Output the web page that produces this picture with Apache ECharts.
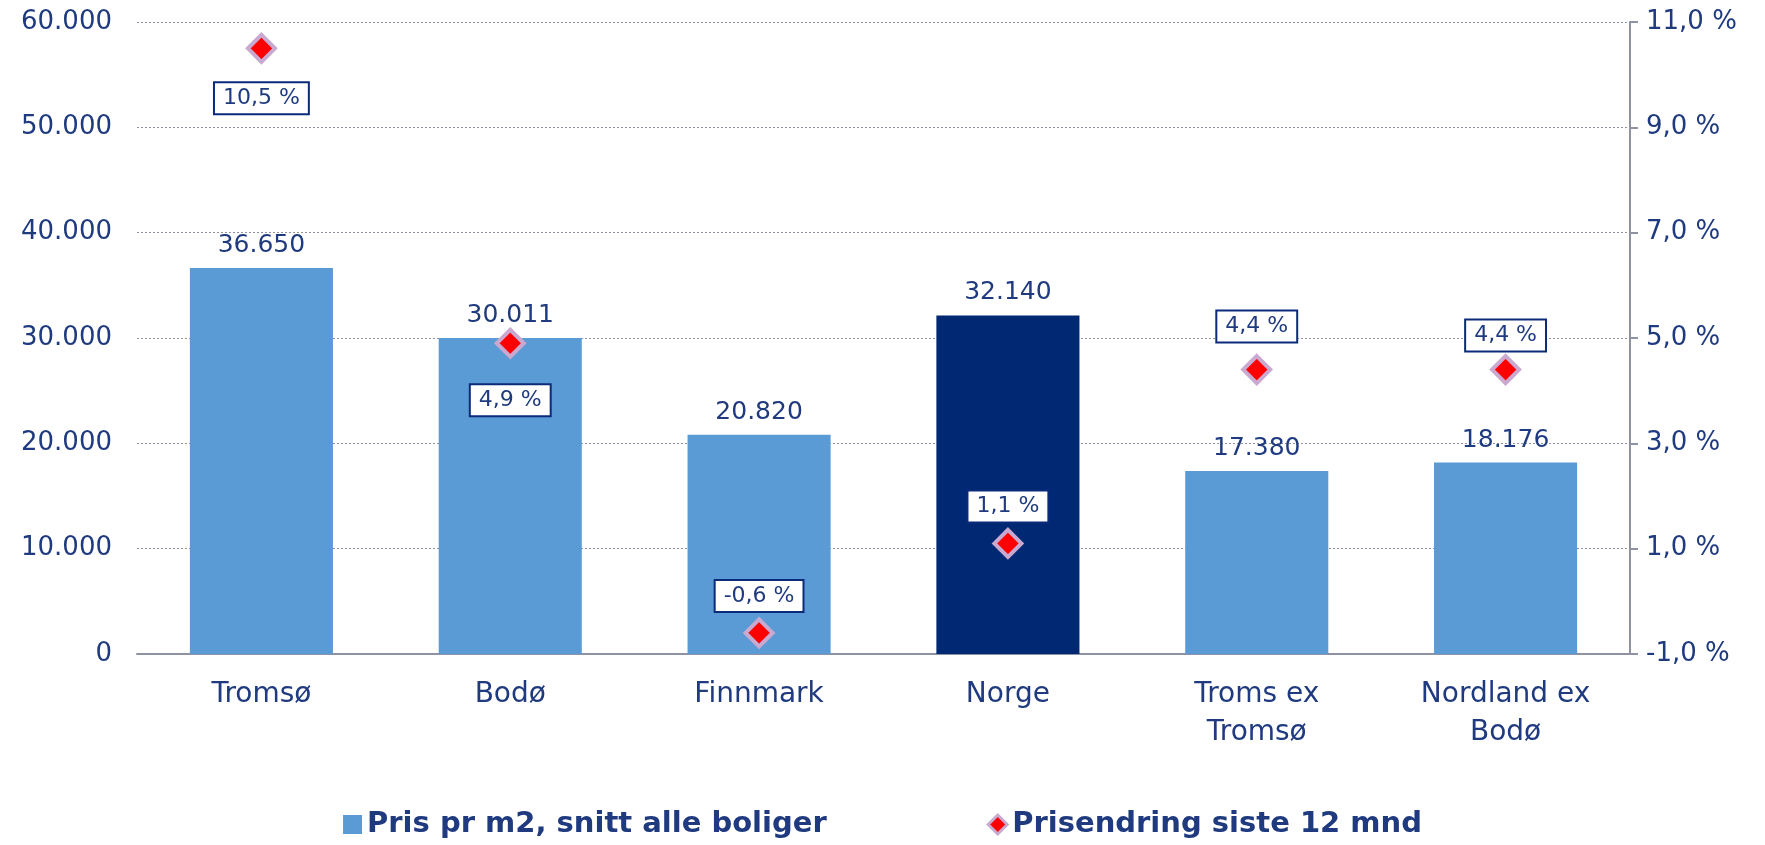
<!DOCTYPE html>
<html>
<head>
<meta charset="utf-8">
<script src="https://cdn.jsdelivr.net/npm/echarts@6/dist/echarts.min.js"></script>
<style>
  html, body { margin: 0; padding: 0; background: #fff; }
  #chart { width: 1765px; height: 845px; }
</style>
</head>
<body>
<div id="chart"></div>
<script>
// data
const categories = ['Tromsø', 'Bodø', 'Finnmark', 'Norge', 'Troms ex\nTromsø', 'Nordland ex\nBodø']
const prisPrM2 = [36650, 30011, 20820, 32140, 17380, 18176]
const prisendring = [10.5, 4.9, -0.6, 1.1, 4.4, 4.4]
const leftTicks = [0, 10000, 20000, 30000, 40000, 50000, 60000]
const rightTicks = [-1, 1, 3, 5, 7, 9, 11]

const textColor = '#1F3A7F'
const lightBar = '#5B9BD5'
const darkBar = '#002873'
const gridGray = '#8F92A2'
// label shift (px) for each diamond's box
const labelDy = [50, 57, -37, -37, -43, -34]

const fmtThousand = v => String(Math.round(v)).replace(/\B(?=(\d{3})+(?!\d))/g, '.')
const fmtPct = v => v.toFixed(1).replace('.', ',') + ' %'

let chart = echarts.init(document.getElementById('chart'))
const option = {
  animation: false,
  textStyle: { fontFamily: 'DejaVu Sans' },
  grid: { left: 137, right: 135, top: 22, bottom: 191 },
  legend: {
    bottom: 1,
    left: 'center',
    itemGap: 160,
    itemWidth: 19,
    itemHeight: 19,
    textStyle: { color: textColor, fontSize: 29, fontWeight: 'bold', fontFamily: 'DejaVu Sans' },
    data: [
      { name: 'Pris pr m2, snitt alle boliger', icon: 'rect', itemStyle: { color: lightBar } },
      { name: 'Prisendring siste 12 mnd', icon: 'diamond', itemStyle: { color: '#FF0000', borderColor: '#C9A9CF', borderWidth: 3 } }
    ]
  },
  xAxis: {
    type: 'category',
    data: categories,
    axisTick: { show: false },
    axisLine: { lineStyle: { color: gridGray, width: 2 } },
    axisLabel: { color: textColor, fontSize: 28, margin: 22, lineHeight: 38 }
  },
  yAxis: [
    {
      type: 'value',
      min: leftTicks[0],
      max: leftTicks[leftTicks.length - 1],
      interval: 10000,
      axisLine: { show: false },
      axisTick: { show: false },
      axisLabel: { color: textColor, fontSize: 26, margin: 25, formatter: v => fmtThousand(v) },
      splitLine: { lineStyle: { color: gridGray, type: [2, 2], width: 1 } }
    },
    {
      type: 'value',
      min: rightTicks[0],
      max: rightTicks[rightTicks.length - 1],
      alignTicks: true,
      position: 'right',
      axisLine: { show: true, lineStyle: { color: gridGray, width: 2 } },
      axisTick: { show: true, inside: false, length: 8, lineStyle: { color: gridGray, width: 2 } },
      axisLabel: { color: textColor, fontSize: 26, margin: 16, formatter: v => fmtPct(v) },
      splitLine: { show: false }
    }
  ],
  series: [
    {
      name: 'Pris pr m2, snitt alle boliger',
      type: 'bar',
      barWidth: '57.5%',
      data: prisPrM2.map((v, i) => ({
        value: v,
        itemStyle: { color: categories[i] === 'Norge' ? darkBar : lightBar }
      })),
      label: {
        show: true,
        position: 'top',
        distance: 10,
        color: textColor,
        fontSize: 25,
        formatter: p => fmtThousand(p.value)
      },
      z: 2
    },
    {
      name: 'Prisendring siste 12 mnd',
      type: 'scatter',
      yAxisIndex: 1,
      symbol: 'diamond',
      symbolSize: 27,
      itemStyle: { color: '#FF0000', borderColor: '#C9A9CF', borderWidth: 4, opacity: 1 },
      data: prisendring.map((v, i) => ({
        value: v,
        label: { offset: [0, labelDy[i]] }
      })),
      label: {
        show: true,
        position: 'inside',
        color: textColor,
        fontSize: 22,
        backgroundColor: '#FFFFFF',
        borderColor: '#0B2B7A',
        borderWidth: 2,
        padding: [5, 8, 3, 8],
        formatter: p => fmtPct(p.value)
      },
      z: 5
    }
  ]
}
chart.setOption(option)
</script>
</body>
</html>
